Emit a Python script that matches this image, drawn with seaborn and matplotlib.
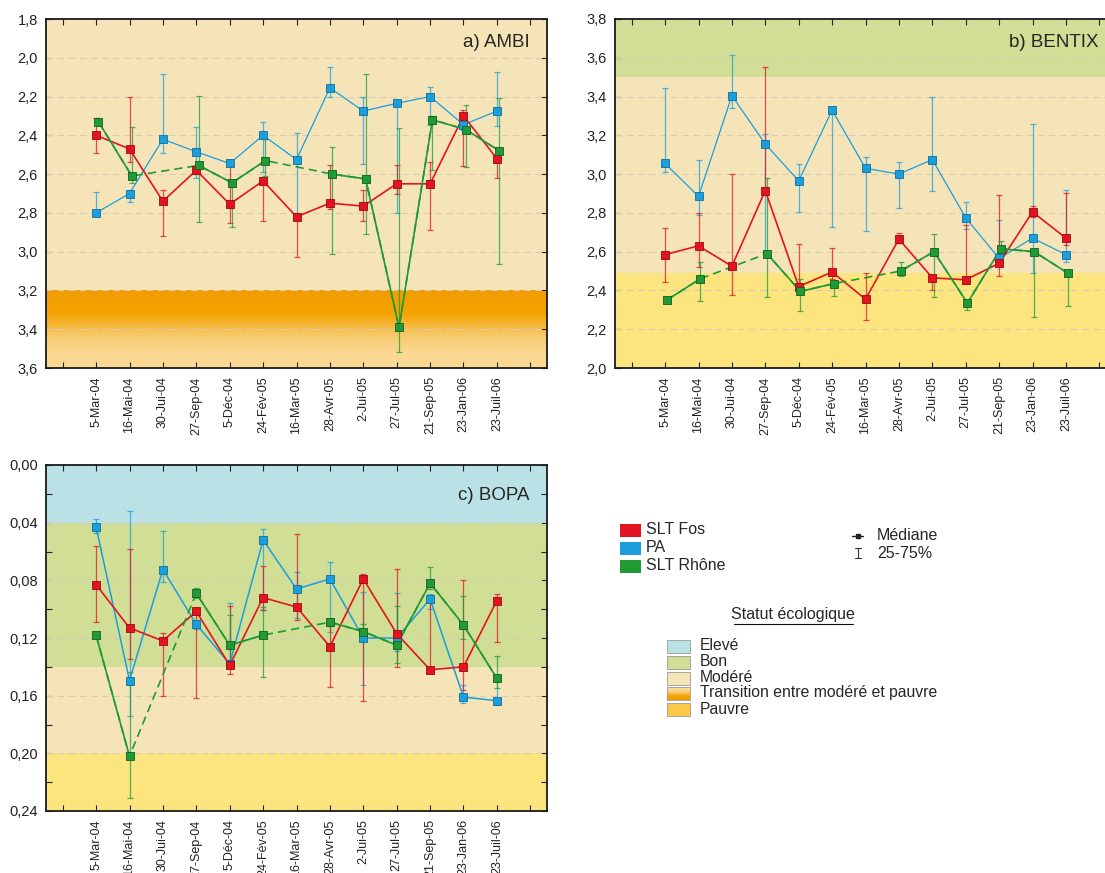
import numpy as np
import pandas as pd
import matplotlib.pyplot as plt
import seaborn as sns
from matplotlib.colors import LinearSegmentedColormap
from matplotlib.patches import Rectangle
from matplotlib.ticker import FuncFormatter, MultipleLocator

dates = ["5-Mar-04", "16-Mai-04", "30-Jui-04", "27-Sep-04", "5-Déc-04", "24-Fév-05",
         "16-Mar-05", "28-Avr-05", "2-Jui-05", "27-Jul-05", "21-Sep-05", "23-Jan-06", "23-Juil-06"]
nan = np.nan

# a) AMBI : median, 25% and 75%
ambi_fos = [2.40, 2.47, 2.74, 2.58, 2.755, 2.635, 2.82, 2.75, 2.765, 2.65, 2.65, 2.30, 2.52]
ambi_fos_lo = [2.31, 2.20, 2.68, 2.56, 2.53, 2.62, 2.80, 2.555, 2.68, 2.555, 2.54, 2.27, 2.52]
ambi_fos_hi = [2.49, 2.54, 2.92, 2.60, 2.85, 2.84, 3.03, 2.78, 2.84, 2.70, 2.89, 2.56, 2.62]
ambi_pa = [2.80, 2.70, 2.42, 2.485, 2.545, 2.40, 2.525, 2.155, 2.275, 2.235, 2.20, 2.345, 2.275]
ambi_pa_lo = [2.69, 2.68, 2.085, 2.355, 2.53, 2.33, 2.39, 2.05, 2.20, 2.23, 2.15, 2.33, 2.075]
ambi_pa_hi = [2.81, 2.745, 2.49, 2.62, 2.56, 2.59, 2.82, 2.20, 2.55, 2.80, 2.345, 2.37, 2.35]
ambi_rho = [2.33, 2.61, nan, 2.555, 2.645, 2.53, nan, 2.60, 2.625, 3.39, 2.32, 2.37, 2.48]
ambi_rho_lo = [2.31, 2.355, nan, 2.195, 2.64, 2.42, nan, 2.46, 2.085, 2.36, 2.30, 2.245, 2.21]
ambi_rho_hi = [2.345, 2.645, nan, 2.845, 2.875, 2.61, nan, 3.01, 2.91, 3.52, 2.58, 2.565, 3.065]

# b) BENTIX
bentix_fos = [2.585, 2.63, 2.525, 2.915, 2.42, 2.495, 2.355, 2.665, 2.465, 2.455, 2.54, 2.805, 2.67]
bentix_fos_lo = [2.445, 2.52, 2.375, 2.90, 2.41, 2.46, 2.25, 2.645, 2.40, 2.45, 2.475, 2.78, 2.635]
bentix_fos_hi = [2.72, 2.80, 3.00, 3.555, 2.64, 2.62, 2.49, 2.695, 2.47, 2.735, 2.89, 2.835, 2.905]
bentix_pa = [3.055, 2.885, 3.405, 3.155, 2.965, 3.33, 3.03, 3.00, 3.075, 2.775, 2.565, 2.67, 2.585]
bentix_pa_lo = [3.01, 2.79, 3.34, 2.60, 2.805, 2.725, 2.705, 2.825, 2.915, 2.715, 2.525, 2.49, 2.545]
bentix_pa_hi = [3.445, 3.075, 3.615, 3.205, 3.05, 3.33, 3.09, 3.065, 3.40, 2.855, 2.765, 3.26, 2.92]
bentix_rho = [2.35, 2.46, nan, 2.59, 2.395, 2.435, nan, 2.50, 2.60, 2.335, 2.615, 2.60, 2.49]
bentix_rho_lo = [2.34, 2.345, nan, 2.365, 2.295, 2.37, nan, 2.475, 2.365, 2.30, 2.58, 2.265, 2.32]
bentix_rho_hi = [2.36, 2.545, nan, 2.98, 2.46, 2.44, nan, 2.545, 2.69, 2.35, 2.655, 2.61, 2.49]

# c) BOPA
bopa_fos = [0.083, 0.113, 0.122, 0.1015, 0.139, 0.092, 0.0985, 0.126, 0.079, 0.117, 0.142, 0.140, 0.094]
bopa_fos_lo = [0.0565, 0.058, 0.1165, 0.100, 0.098, 0.070, 0.048, 0.107, 0.0755, 0.072, 0.095, 0.080, 0.0895]
bopa_fos_hi = [0.109, 0.1345, 0.160, 0.1615, 0.145, 0.1005, 0.1075, 0.154, 0.164, 0.140, 0.144, 0.156, 0.123]
bopa_pa = [0.043, 0.1495, 0.0725, 0.1105, 0.138, 0.052, 0.086, 0.079, 0.120, 0.120, 0.093, 0.161, 0.1635]
bopa_pa_lo = [0.0375, 0.032, 0.046, 0.110, 0.096, 0.0445, 0.0745, 0.067, 0.088, 0.0885, 0.0895, 0.1525, 0.149]
bopa_pa_hi = [0.0475, 0.174, 0.0815, 0.114, 0.140, 0.1005, 0.106, 0.1155, 0.1525, 0.129, 0.100, 0.165, 0.1665]
bopa_rho = [0.118, 0.202, nan, 0.089, 0.125, 0.118, nan, 0.109, 0.1155, 0.125, 0.082, 0.111, 0.148]
bopa_rho_lo = [0.117, 0.1435, nan, 0.0855, 0.104, 0.0985, nan, 0.107, 0.110, 0.098, 0.071, 0.091, 0.1325]
bopa_rho_hi = [0.119, 0.231, nan, 0.092, 0.135, 0.147, nan, 0.112, 0.121, 0.1375, 0.086, 0.121, 0.155]

stations = ["SLT Fos", "PA", "SLT Rhône"]
status = ["Elevé", "Bon", "Modéré", "Transition entre modéré et pauvre", "Pauvre"]

RED, BLUE, GREEN = "#e3141f", "#1a9fdc", "#1f9a35"
EDGE = {RED: "#9a0a10", BLUE: "#0e6f9c", GREEN: "#0f5f1e"}
C_ELEVE, C_BON, C_MOD, C_PAUV = "#bae1e6", "#d0de96", "#f6e4b9", "#fce47f"
trans_cmap = LinearSegmentedColormap.from_list(
    "trans", [(0, "#f29c00"), (0.3, "#f4a300"), (0.6, "#f8cb72"), (0.8, "#fad891"), (1, "#fbdb94")])

sns.set_style("white")
plt.rcParams["font.family"] = ["Liberation Sans", "DejaVu Sans"]

W, H = 1105, 873
fig = plt.figure(figsize=(W / 100, H / 100), dpi=100)


def box(x0, y0, x1, y1):
    return [x0 / W, 1 - y1 / H, (x1 - x0) / W, (y1 - y0) / H]


def panel(ax, series, ylim, major, minor, bands, title, fmt, ty):
    x = np.arange(1, len(dates) + 1)
    for lo, hi, c in bands:
        if c == "trans":
            grad = np.linspace(0, 1, 200).reshape(-1, 1)
            ax.imshow(grad, cmap=trans_cmap, origin="lower", aspect="auto",
                      extent=(-0.5, 14.5, lo, hi), zorder=0)
        else:
            ax.axhspan(lo, hi, color=c, lw=0, zorder=0)
    for v in np.arange(ylim[0], ylim[1] + 1e-9, major)[1:-1]:
        ax.axhline(v, color="#d8cdb3", lw=0.8, dashes=(6, 4), zorder=1)

    for (med, lo, hi), col, off, lw in series:
        med, lo, hi = np.array(med), np.array(lo), np.array(hi)
        xs = x + off
        yerr = [np.clip(med - lo, 0, None), np.clip(hi - med, 0, None)]
        ax.errorbar(xs, med, yerr=yerr, fmt="none", ecolor=col, elinewidth=0.9,
                    capsize=2.5, capthick=0.9, alpha=0.75, zorder=2)
        df = pd.DataFrame({"x": xs, "v": med})
        if np.isnan(med).any():
            # dashed line bridges the missing campaigns, solid one breaks there
            sns.lineplot(data=df, x="x", y="v", color=col, lw=lw, ax=ax,
                         dashes=False, zorder=3).lines[-1].set_dashes((5, 3))
            ax.plot(xs, med, color=col, lw=lw, zorder=3)
        else:
            sns.lineplot(data=df, x="x", y="v", color=col, lw=lw, ax=ax, zorder=3)
        sns.scatterplot(data=df, x="x", y="v", marker="s", color=col, s=26,
                        edgecolor=EDGE[col], linewidth=0.6, ax=ax, zorder=4)

    ax.set_xlim(-0.5, 14.5)
    ax.set_ylim(*ylim)
    ax.set_xticks(range(15))
    ax.set_xticklabels([""] + dates + [""], rotation=90, fontsize=9)
    ax.yaxis.set_major_locator(MultipleLocator(major))
    ax.yaxis.set_minor_locator(MultipleLocator(minor))
    ax.yaxis.set_major_formatter(FuncFormatter(fmt))
    ax.tick_params(axis="both", which="both", direction="in", length=4, width=0.8,
                   top=True, right=True, left=True, bottom=True, colors="#222")
    ax.tick_params(axis="y", labelsize=10.5, pad=6)
    ax.tick_params(axis="x", labelsize=9, pad=6)
    ax.set_xlabel("")
    ax.set_ylabel("")
    for s in ax.spines.values():
        s.set_linewidth(1.3)
        s.set_color("#1a1a1a")
    ax.text(0.966, ty, title, transform=ax.transAxes, ha="right", va="center",
            fontsize=13.5, zorder=5)


fmt1 = lambda v, p: f"{v:.1f}".replace(".", ",")
fmt2 = lambda v, p: f"{v:.2f}".replace(".", ",")

ax_a = fig.add_axes(box(46, 19, 547, 368))
panel(ax_a,
      [((ambi_pa, ambi_pa_lo, ambi_pa_hi), BLUE, 0.0, 0.9),
       ((ambi_fos, ambi_fos_lo, ambi_fos_hi), RED, 0.0, 1.2),
       ((ambi_rho, ambi_rho_lo, ambi_rho_hi), GREEN, 0.07, 1.2)],
      (1.8, 3.6), 0.2, 0.2, [(1.8, 3.2, C_MOD), (3.2, 3.6, "trans")],
      "a) AMBI", fmt1, 0.934)
ax_a.invert_yaxis()

ax_b = fig.add_axes(box(615, 19, 1116, 368))
panel(ax_b,
      [((bentix_pa, bentix_pa_lo, bentix_pa_hi), BLUE, 0.0, 0.9),
       ((bentix_fos, bentix_fos_lo, bentix_fos_hi), RED, 0.0, 1.2),
       ((bentix_rho, bentix_rho_lo, bentix_rho_hi), GREEN, 0.05, 1.2)],
      (2.0, 3.8), 0.2, 0.2, [(2.0, 2.49, C_PAUV), (2.49, 3.5, C_MOD), (3.5, 3.8, C_BON)],
      "b) BENTIX", fmt1, 0.934)

ax_c = fig.add_axes(box(46, 465, 547, 811))
panel(ax_c,
      [((bopa_pa, bopa_pa_lo, bopa_pa_hi), BLUE, 0.0, 1.1),
       ((bopa_fos, bopa_fos_lo, bopa_fos_hi), RED, 0.0, 1.2),
       ((bopa_rho, bopa_rho_lo, bopa_rho_hi), GREEN, 0.0, 1.2)],
      (0.0, 0.24), 0.04, 0.02,
      [(0.0, 0.04, C_ELEVE), (0.04, 0.14, C_BON), (0.14, 0.20, C_MOD), (0.20, 0.24, C_PAUV)],
      "c) BOPA", fmt2, 0.913)
ax_c.invert_yaxis()

# legend area, drawn in pixel coordinates
lg = fig.add_axes([0, 0, 1, 1], zorder=-1)
lg.set_xlim(0, W)
lg.set_ylim(H, 0)
lg.axis("off")
for name, col, yy in zip(stations, [RED, BLUE, GREEN], [530, 548, 566]):
    lg.add_patch(Rectangle((620, yy - 6.5), 21, 13, color=col, lw=0))
    lg.text(646, yy, name, fontsize=11.5, va="center", ha="left")
lg.plot([852, 863], [536, 536], color="#222", lw=1)
lg.plot([858], [536], marker="s", ms=2.5, color="#222")
lg.plot([858, 858], [548, 558], color="#333", lw=0.8)
lg.plot([855, 861], [548, 548], color="#333", lw=0.8)
lg.plot([855, 861], [558, 558], color="#333", lw=0.8)
lg.text(877, 536, "Médiane", fontsize=11.5, va="center")
lg.text(877, 553, "25-75%", fontsize=11.5, va="center")
lg.text(793, 615, "Statut écologique", fontsize=11.5, va="center", ha="center")
lg.plot([734, 853], [624, 624], color="#111", lw=0.8)
for name, col, yy in zip(status, [C_ELEVE, C_BON, C_MOD, None, "#fbc84a"], [646, 662, 678, 693, 709]):
    if col is None:
        gax = fig.add_axes(box(667, yy - 6.5, 690, yy + 6.5))
        gax.imshow(np.linspace(1, 0, 50).reshape(-1, 1), cmap=trans_cmap, aspect="auto")
        gax.set_xticks([])
        gax.set_yticks([])
        for s in gax.spines.values():
            s.set_color("#999")
            s.set_linewidth(0.6)
    else:
        lg.add_patch(Rectangle((667, yy - 6.5), 23, 13, facecolor=col, edgecolor="#999", lw=0.6))
    lg.text(700, yy, name, fontsize=11.3, va="center", ha="left")

fig.savefig("out.png", dpi=100)
